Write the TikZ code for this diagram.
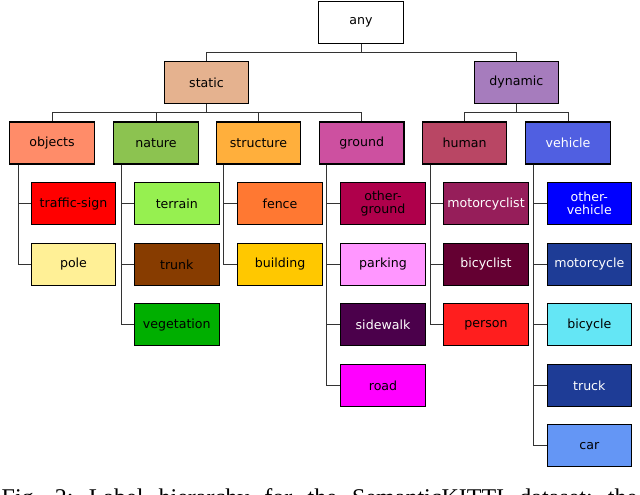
\documentclass[tikz,border=0pt]{standalone}
\usepackage{fontspec}
\setmainfont{Liberation Serif}
\newfontfamily\boxfont{DejaVu Sans}
\usepackage{tikz}

\definecolor{cstatic}{RGB}{229,178,143}
\definecolor{cdynamic}{RGB}{166,124,189}
\definecolor{cobjects}{RGB}{255,140,105}
\definecolor{cnature}{RGB}{140,195,80}
\definecolor{cstructure}{RGB}{255,175,60}
\definecolor{cground}{RGB}{205,80,160}
\definecolor{chuman}{RGB}{185,70,100}
\definecolor{cvehicle}{RGB}{80,95,225}
\definecolor{ctsign}{RGB}{255,0,0}
\definecolor{cpole}{RGB}{255,240,150}
\definecolor{cterrain}{RGB}{150,240,80}
\definecolor{ctrunk}{RGB}{135,60,0}
\definecolor{cveget}{RGB}{0,175,0}
\definecolor{cfence}{RGB}{255,120,50}
\definecolor{cbuilding}{RGB}{255,200,0}
\definecolor{coground}{RGB}{175,0,75}
\definecolor{cparking}{RGB}{255,150,255}
\definecolor{csidewalk}{RGB}{75,0,75}
\definecolor{croad}{RGB}{255,0,255}
\definecolor{cmcyclist}{RGB}{150,30,90}
\definecolor{cbcyclist}{RGB}{100,0,50}
\definecolor{cperson}{RGB}{255,30,30}
\definecolor{covehicle}{RGB}{0,0,255}
\definecolor{cmcycle}{RGB}{30,60,150}
\definecolor{cbicycle}{RGB}{100,230,245}
\definecolor{ctruck}{RGB}{30,60,150}
\definecolor{ccar}{RGB}{100,150,245}

\begin{document}
\begin{tikzpicture}[x=1pt,y=-1pt,
  cls/.style={draw=black,line width=1.1pt,minimum width=84.5pt,minimum height=42pt,
    inner sep=0pt,align=center,font=\boxfont\fontsize{12.6}{13}\selectfont},
  light/.style={text=white},
  link/.style={draw=black!80,line width=0.9pt}]
\useasboundingbox (0,0) rectangle (640,495);
\clip (0,0) rectangle (640,495);
% top levels
\node[cls,fill=white] (any) at (361,22.5) {any};
\node[cls,fill=cstatic] (static) at (206.5,82.5) {static};
\node[cls,fill=cdynamic] (dynamic) at (516.3,82.5) {dynamic};
\node[cls,fill=cobjects] (objects) at (52,143) {objects};
\node[cls,fill=cnature] (nature) at (156,143) {nature};
\node[cls,fill=cstructure] (structure) at (258.5,143) {structure};
\node[cls,fill=cground] (ground) at (361.7,143) {ground};
\node[cls,fill=chuman] (human) at (464.5,143) {human};
\node[cls,fill=cvehicle,light] (vehicle) at (568,143) {vehicle};
% classes
\node[cls,fill=ctsign] (tsign) at (73.5,203.7) {traffic-sign};
\node[cls,fill=cpole] (pole) at (73.5,264.5) {pole};
\node[cls,fill=cterrain] (terrain) at (176.8,203.7) {terrain};
\node[cls,fill=ctrunk] (trunk) at (176.8,264.5) {trunk};
\node[cls,fill=cveget] (veget) at (176.8,324.9) {vegetation};
\node[cls,fill=cfence] (fence) at (280,203.7) {fence};
\node[cls,fill=cbuilding] (building) at (280,264.5) {building};
\node[cls,fill=coground] (oground) at (383,203.7) {other-\\ground};
\node[cls,fill=cparking] (parking) at (383,264.5) {parking};
\node[cls,fill=csidewalk,light] (sidewalk) at (383,324.9) {sidewalk};
\node[cls,fill=croad] (road) at (383,385.3) {road};
\node[cls,fill=cmcyclist,light] (mcyclist) at (486,203.7) {motorcyclist};
\node[cls,fill=cbcyclist,light] (bcyclist) at (486,264.5) {bicyclist};
\node[cls,fill=cperson] (person) at (486,324.9) {person};
\node[cls,fill=covehicle,light] (ovehicle) at (589.3,203.7) {other-\\vehicle};
\node[cls,fill=cmcycle,light] (mcycle) at (589.3,264.5) {motorcycle};
\node[cls,fill=cbicycle] (bicycle) at (589.3,324.9) {bicycle};
\node[cls,fill=ctruck,light] (truck) at (589.3,385.3) {truck};
\node[cls,fill=ccar] (car) at (589.3,445.8) {car};
% tree links
\draw[link] (any.south) -- ++(0,8) -| (static.north);
\draw[link] (any.south) -- ++(0,8) -| (dynamic.north);
\draw[link] (static.south) -- ++(0,8.5) -| (objects.north);
\draw[link] (static.south) -- ++(0,8.5) -| (nature.north);
\draw[link] (static.south) -- ++(0,8.5) -| (structure.north);
\draw[link] (static.south) -- ++(0,8.5) -| (ground.north);
\draw[link] (dynamic.south) -- ++(0,8.5) -| (human.north);
\draw[link] (dynamic.south) -- ++(0,8.5) -| (vehicle.north);
\draw[link] ([xshift=9pt]objects.south west) |- (tsign.west);
\draw[link] ([xshift=9pt]objects.south west) |- (pole.west);
\draw[link] ([xshift=8pt]nature.south west) |- (terrain.west);
\draw[link] ([xshift=8pt]nature.south west) |- (trunk.west);
\draw[link] ([xshift=8pt]nature.south west) |- (veget.west);
\draw[link] ([xshift=8pt]structure.south west) |- (fence.west);
\draw[link] ([xshift=8pt]structure.south west) |- (building.west);
\draw[link] ([xshift=8pt]ground.south west) |- (oground.west);
\draw[link] ([xshift=8pt]ground.south west) |- (parking.west);
\draw[link] ([xshift=8pt]ground.south west) |- (sidewalk.west);
\draw[link] ([xshift=8pt]ground.south west) |- (road.west);
\draw[link] ([xshift=9pt]human.south west) |- (mcyclist.west);
\draw[link] ([xshift=9pt]human.south west) |- (bcyclist.west);
\draw[link] ([xshift=9pt]human.south west) |- (person.west);
\draw[link] ([xshift=8pt]vehicle.south west) |- (ovehicle.west);
\draw[link] ([xshift=8pt]vehicle.south west) |- (mcycle.west);
\draw[link] ([xshift=8pt]vehicle.south west) |- (bicycle.west);
\draw[link] ([xshift=8pt]vehicle.south west) |- (truck.west);
\draw[link] ([xshift=8pt]vehicle.south west) |- (car.west);
% caption, cut by the page edge
\node[anchor=base west,inner sep=0pt,font=\fontsize{24}{26}\selectfont] (caption) at (1.5,505)
  {\frenchspacing\makebox[635.5pt][s]{Fig. 2: Label hierarchy for the SemanticKITTI dataset; the}};
\end{tikzpicture}
\end{document}
